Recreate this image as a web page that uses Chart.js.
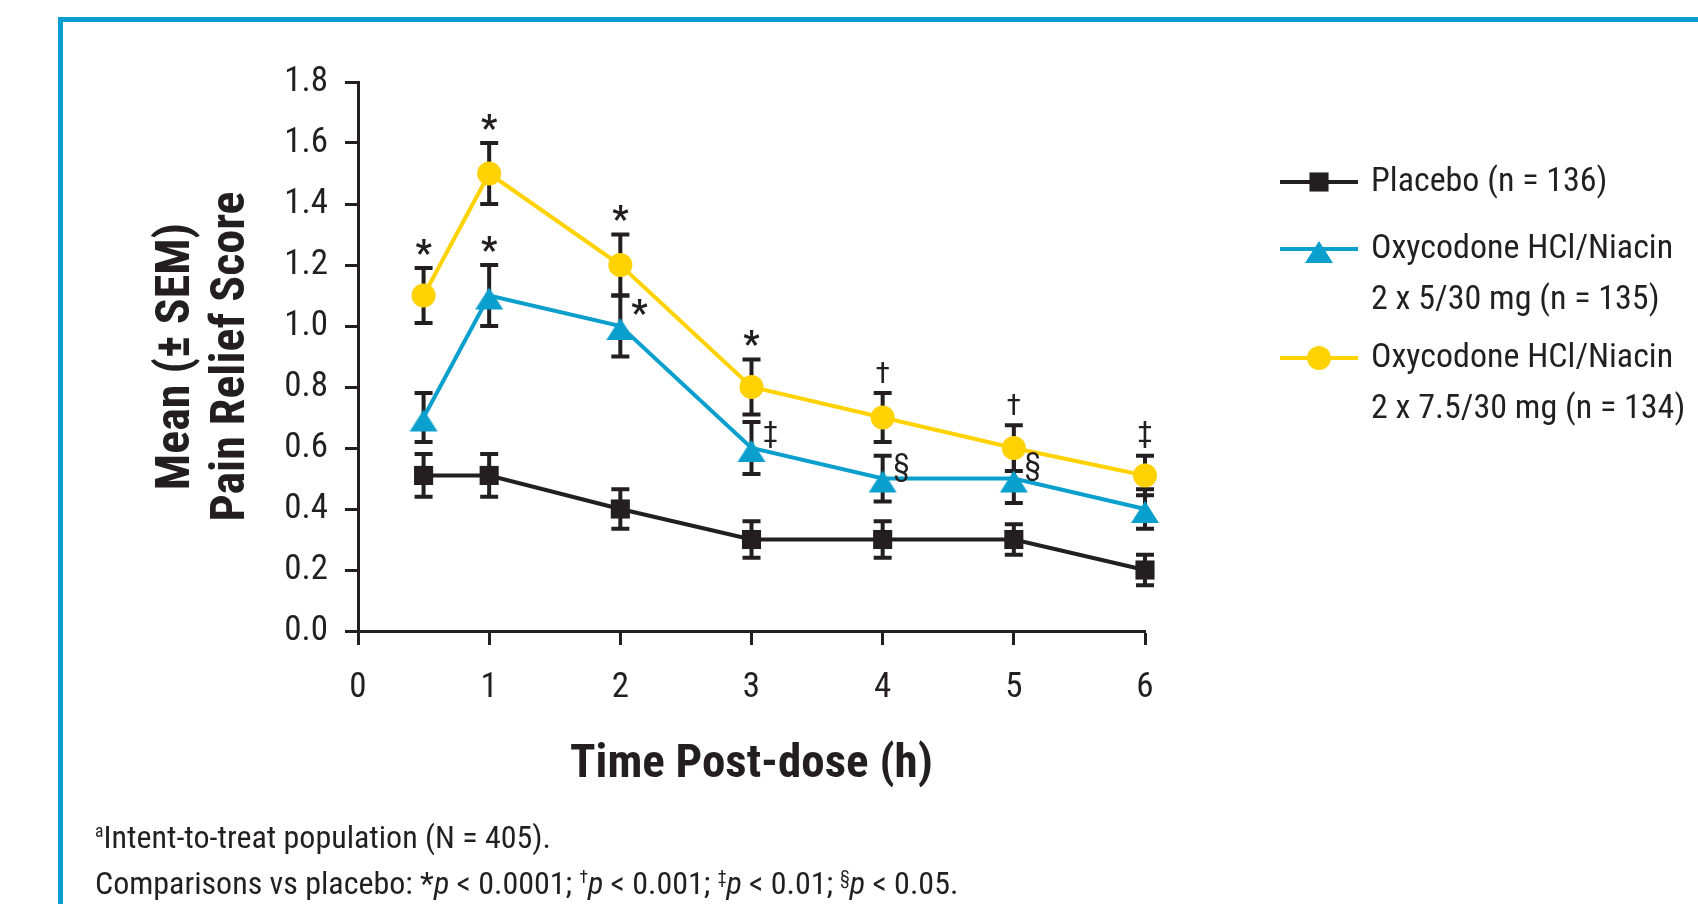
<!DOCTYPE html>
<html>
<head>
<meta charset="utf-8">
<script src="https://cdn.jsdelivr.net/npm/chart.js@4.4.0/dist/chart.umd.min.js"></script>
<style>
  html, body { margin: 0; padding: 0; background: #fff; }
  body { width: 1698px; height: 904px; position: relative; overflow: hidden;
         font-family: 'Roboto Condensed', 'Liberation Sans', sans-serif; color: #231f20; }
  #frame { position: absolute; left: 58px; top: 17px; right: -10px; bottom: -10px;
           border-top: 5px solid #0a9fd0; border-left: 5px solid #0a9fd0; }
  #c { position: absolute; left: 0; top: 0; }
  .note { position: absolute; left: 95px; font-size: 32px; line-height: 40px; white-space: nowrap; }
  .note sup { font-size: 55%; vertical-align: 0.6em; line-height: 0; }
</style>
</head>
<body>
<div id="frame"></div>
<canvas id="c" width="1698" height="904"></canvas>
<div class="note" style="top:817px"><sup>a</sup>Intent-to-treat population (N = 405).</div>
<div class="note" style="top:863px">Comparisons vs placebo: *<i>p</i> &lt; 0.0001; <sup>†</sup><i>p</i> &lt; 0.001; <sup>‡</sup><i>p</i> &lt; 0.01; <sup>§</sup><i>p</i> &lt; 0.05.</div>
<script>
// time points (h)
const hours = [0.5, 1, 2, 3, 4, 5, 6];

// mean pain relief and SEM
const placebo    = [0.51, 0.51, 0.40, 0.30, 0.30, 0.30, 0.20];
const placeboSem = [0.07, 0.07, 0.065, 0.06, 0.06, 0.05, 0.05];
const dose5      = [0.70, 1.10, 1.00, 0.60, 0.50, 0.50, 0.40];
const dose5Sem   = [0.08, 0.10, 0.10, 0.085, 0.075, 0.08, 0.065];
const dose75     = [1.10, 1.50, 1.20, 0.80, 0.70, 0.60, 0.51];
const dose75Sem  = [0.09, 0.10, 0.10, 0.09, 0.08, 0.075, 0.065];

// significance marks vs placebo
const dose5Sig  = ['', '*', '*', '‡', '§', '§', ''];
const dose75Sig = ['*', '*', '*', '*', '†', '†', '‡'];

const seriesNames = [
  ['Placebo (n = 136)'],
  ['Oxycodone HCl/Niacin', '2 x 5/30 mg (n = 135)'],
  ['Oxycodone HCl/Niacin', '2 x 7.5/30 mg (n = 134)']
];
const xTicks = [0, 1, 2, 3, 4, 5, 6];

const INK = '#231f20';
const BLUE = '#0a9fcc';
const YELLOW = '#ffd200';
const FONT = "'Roboto Condensed', 'Liberation Sans', sans-serif";

const pts = vals => vals.map((v, i) => ({x: hours[i], y: v}));

// triangle marker sitting a little low on its point, like the original artwork
function triangleMarker(color) {
  const cv = document.createElement('canvas');
  cv.width = 30; cv.height = 30;
  const c = cv.getContext('2d');
  c.fillStyle = color;
  c.beginPath();
  c.moveTo(15, 7); c.lineTo(29, 29); c.lineTo(1, 29);
  c.closePath();
  c.fill();
  return cv;
}
const blueTriangle = triangleMarker(BLUE);

function drawMark(ctx, style, r, x, y) {
  if (Chart.helpers && Chart.helpers.drawPoint) {
    Chart.helpers.drawPoint(ctx, {pointStyle: style, radius: r, borderWidth: 0, rotation: 0}, x, y);
  }
}

const errorBars = {
  id: 'errorBars',
  beforeDatasetsDraw(chart) {
    const {ctx, scales: {x, y}} = chart;
    ctx.save();
    ctx.strokeStyle = INK;
    ctx.lineWidth = 4;
    chart.data.datasets.forEach(ds => {
      ds.data.forEach((p, i) => {
        const e = ds.sem[i];
        const px = x.getPixelForValue(p.x);
        const top = y.getPixelForValue(p.y + e);
        const bot = y.getPixelForValue(p.y - e);
        ctx.beginPath();
        ctx.moveTo(px, top); ctx.lineTo(px, bot);
        ctx.moveTo(px - 9, top); ctx.lineTo(px + 9, top);
        ctx.moveTo(px - 9, bot); ctx.lineTo(px + 9, bot);
        ctx.stroke();
      });
    });
    ctx.restore();
  }
};

const sigMarks = {
  id: 'sigMarks',
  afterDatasetsDraw(chart) {
    const {ctx, scales: {x, y}} = chart;
    ctx.save();
    ctx.fillStyle = INK;
    ctx.textAlign = 'center';
    ctx.textBaseline = 'alphabetic';
    chart.data.datasets.forEach(ds => {
      if (!ds.sig) return;
      ds.sig.forEach((s, i) => {
        if (!s) return;
        const p = ds.data[i];
        const px = x.getPixelForValue(p.x);
        const top = y.getPixelForValue(p.y + ds.sem[i]);
        ctx.font = s === '*' ? `bold 36px ${FONT}` : `30px ${FONT}`;
        const m = ctx.measureText(s);
        let cx = px, cy = top - 21;
        if (ds.sigSide[i] === 'right') { cx = px + 19; cy = top + 12; }
        ctx.fillText(s, cx, cy + (m.actualBoundingBoxAscent - m.actualBoundingBoxDescent) / 2);
      });
    });
    ctx.restore();
  }
};

const sideLegend = {
  id: 'sideLegend',
  afterDraw(chart) {
    const {ctx} = chart;
    const o = chart.options.plugins.sideLegend;
    chart.data.datasets.forEach((ds, i) => {
      const ry = o.rows[i];
      ctx.save();
      ctx.strokeStyle = ds.borderColor;
      ctx.lineWidth = ds.borderWidth;
      ctx.beginPath();
      ctx.moveTo(o.x0, ry); ctx.lineTo(o.x1, ry);
      ctx.stroke();
      ctx.fillStyle = ds.pointBackgroundColor;
      drawMark(ctx, ds.pointStyle, ds.pointRadius, (o.x0 + o.x1) / 2, ry);
      ctx.fillStyle = INK;
      ctx.font = `34px ${FONT}`;
      ctx.textAlign = 'left';
      ctx.textBaseline = 'middle';
      ds.label.forEach((line, j) => ctx.fillText(line, o.textX, ry + j * o.lineGap));
      ctx.restore();
    });
  }
};

new Chart(document.getElementById('c'), {
  type: 'line',
  data: {
    datasets: [
      {
        label: seriesNames[0], data: pts(placebo), sem: placeboSem,
        borderColor: INK, backgroundColor: INK, pointBackgroundColor: INK,
        borderWidth: 4, pointStyle: 'rect', pointRadius: 13.5, pointBorderWidth: 0
      },
      {
        label: seriesNames[1], data: pts(dose5), sem: dose5Sem,
        sig: dose5Sig, sigSide: ['', 'above', 'right', 'right', 'right', 'right', ''],
        borderColor: BLUE, backgroundColor: BLUE, pointBackgroundColor: BLUE,
        borderWidth: 4, pointStyle: blueTriangle, pointRadius: 15, pointBorderWidth: 0
      },
      {
        label: seriesNames[2], data: pts(dose75), sem: dose75Sem,
        sig: dose75Sig, sigSide: ['above', 'above', 'above', 'above', 'above', 'above', 'above'],
        borderColor: YELLOW, backgroundColor: YELLOW, pointBackgroundColor: YELLOW,
        borderWidth: 4, pointStyle: 'circle', pointRadius: 12, pointBorderWidth: 0
      }
    ]
  },
  options: {
    responsive: false,
    animation: false,
    events: [],
    clip: false,
    layout: { padding: { left: 0, right: 553, top: 82, bottom: 104 } },
    plugins: {
      legend: { display: false },
      tooltip: { enabled: false },
      sideLegend: { x0: 1280, x1: 1358, textX: 1371, rows: [182, 249, 358], lineGap: 51 }
    },
    scales: {
      x: {
        type: 'linear', min: 0, max: 6,
        afterFit: s => { s.height = 169; },
        afterBuildTicks: s => { s.ticks = xTicks.map(v => ({value: v})); },
        grid: { drawOnChartArea: false, drawTicks: true, tickLength: 14, tickWidth: 3, tickColor: INK },
        border: { display: true, color: INK, width: 3 },
        ticks: { color: INK, font: { family: FONT, size: 35 }, padding: 22 },
        title: {
          display: true, text: 'Time Post-dose (h)', color: INK,
          font: { family: FONT, size: 47, weight: 'bold', lineHeight: 1.2 },
          padding: { top: 0, bottom: 7 }
        }
      },
      y: {
        min: 0, max: 1.8,
        afterFit: s => { s.width = 358; },
        grid: { drawOnChartArea: false, drawTicks: true, tickLength: 13, tickWidth: 3, tickColor: INK },
        border: { display: true, color: INK, width: 3 },
        ticks: { stepSize: 0.2, color: INK, font: { family: FONT, size: 35 }, padding: 17,
                 callback: v => v.toFixed(1) },
        title: {
          display: true, text: ['Mean (± SEM)', 'Pain Relief Score'], color: INK,
          font: { family: FONT, size: 48, weight: 'bold', lineHeight: 1.14 },
          padding: { top: 150, bottom: 0 }
        }
      }
    }
  },
  plugins: [errorBars, sigMarks, sideLegend]
});
</script>
</body>
</html>
